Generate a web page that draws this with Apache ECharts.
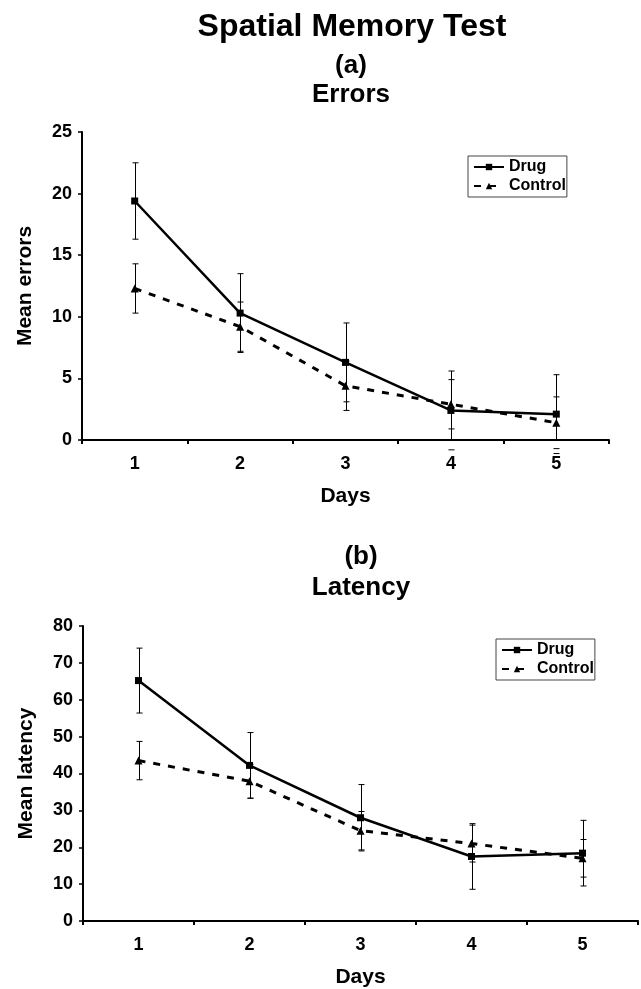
<!DOCTYPE html>
<html>
<head>
<meta charset="utf-8">
<script src="https://cdn.jsdelivr.net/npm/echarts@6/dist/echarts.min.js"></script>
<style>
  html, body { margin: 0; padding: 0; background: #fff; }
  #chart { width: 641px; height: 989px; }
</style>
</head>
<body>
<div id="chart"></div>
<script>
// Days on the x axis
var days = ['1', '2', '3', '4', '5'];

// (a) Errors: means and error-bar half widths
var errorsDrug        = [19.4, 10.3, 6.3, 2.4, 2.1];
var errorsDrugErr     = [3.1, 3.2, 3.2, 3.2, 3.2];
var errorsControl     = [12.3, 9.2, 4.4, 2.9, 1.4];
var errorsControlErr  = [2.0, 2.0, 2.0, 2.0, 2.1];

// (b) Latency: means and error-bar half widths
var latencyDrug       = [65.2, 42.2, 28.0, 17.5, 18.4];
var latencyDrugErr    = [8.8, 8.9, 9.0, 8.9, 8.9];
var latencyControl    = [43.5, 37.9, 24.5, 21.0, 17.0];
var latencyControlErr = [5.2, 4.6, 5.2, 5.0, 5.1];

var FONT = 'Liberation Sans, Arial, sans-serif';

function errData(mean, err) {
    return mean.map(function (m, i) { return [i, m - err[i], m + err[i]]; });
}

// vertical whisker, clipped at the x axis; caps drawn where they fall
function renderErr(params, api) {
    var i = api.value(0);
    var lo = api.coord([i, api.value(1)]);
    var hi = api.coord([i, api.value(2)]);
    var zero = api.coord([i, 0])[1];
    var x = Math.round(lo[0]) + 0.5;
    var yLo = Math.min(lo[1], zero);
    var st = { stroke: '#000', lineWidth: 1 };
    return {
        type: 'group',
        children: [
            { type: 'line', shape: { x1: x, y1: hi[1], x2: x, y2: yLo }, style: st },
            { type: 'line', shape: { x1: x - 3, y1: hi[1], x2: x + 3, y2: hi[1] }, style: st },
            { type: 'line', shape: { x1: x - 3, y1: lo[1], x2: x + 3, y2: lo[1] }, style: st }
        ]
    };
}

function xAxisFor(gi) {
    return {
        type: 'category', gridIndex: gi, data: days,
        name: 'Days', nameLocation: 'middle', nameGap: 46,
        nameTextStyle: { fontFamily: FONT, fontWeight: 'bold', fontSize: 21, color: '#000' },
        axisLine: { lineStyle: { color: '#000', width: 2 } },
        axisTick: { show: true, length: 4, lineStyle: { color: '#000', width: 2 } },
        axisLabel: { margin: 15, fontFamily: FONT, fontWeight: 'bold', fontSize: 18, color: '#000' },
        splitLine: { show: false }
    };
}

function yAxisFor(gi, name, max, step) {
    return {
        type: 'value', gridIndex: gi, min: 0, max: max, interval: step,
        name: name, nameLocation: 'middle', nameGap: 46,
        nameTextStyle: { fontFamily: FONT, fontWeight: 'bold', fontSize: 21, color: '#000' },
        axisLine: { show: true, lineStyle: { color: '#000', width: 2 } },
        axisTick: { show: true, length: 4, lineStyle: { color: '#000', width: 1.5 } },
        axisLabel: { margin: 10, fontFamily: FONT, fontWeight: 'bold', fontSize: 18, color: '#000' },
        splitLine: { show: false }
    };
}

function lineSeries(name, gi, data, dashed) {
    return {
        name: name, type: 'line', xAxisIndex: gi, yAxisIndex: gi, data: data,
        symbol: dashed ? 'triangle' : 'rect', symbolSize: dashed ? 8 : 7,
        itemStyle: { color: '#000' },
        lineStyle: { color: '#000', width: dashed ? 3 : 2.5, type: dashed ? [7, 8] : 'solid' },
        z: 3, animation: false
    };
}

function errSeries(gi, mean, err) {
    return {
        type: 'custom', xAxisIndex: gi, yAxisIndex: gi, data: errData(mean, err),
        renderItem: renderErr, clip: false, silent: true, z: 2, animation: false,
        encode: { x: 0, y: [1, 2] }
    };
}

function legendFor(left, top) {
    return {
        data: ['Drug', 'Control'], orient: 'vertical', left: left, top: top,
        itemWidth: 30, itemHeight: 8, itemGap: 3, itemTextGap: 4, padding: [3, 1, 3, 5],
        borderColor: '#444', borderWidth: 1,
        textStyle: { fontFamily: FONT, fontWeight: 'bold', fontSize: 16, color: '#000' }
    };
}

function titleText(text, x, y, size) {
    return {
        type: 'text', x: x, y: y,
        style: { text: text, fill: '#000', font: 'bold ' + size + 'px ' + FONT, textAlign: 'center', textVerticalAlign: 'middle' }
    };
}

var chart = echarts.init(document.getElementById('chart'));
chart.setOption({
    backgroundColor: '#fff',
    animation: false,
    graphic: [
        titleText('Spatial Memory Test', 352, 27, 32),
        titleText('(a)', 351, 66, 26),
        titleText('Errors', 351, 95, 26),
        titleText('(b)', 361, 557, 26),
        titleText('Latency', 361, 588, 26)
    ],
    legend: [legendFor(468, 156), legendFor(496, 639)],
    grid: [
        { left: 82, top: 132, width: 527, height: 308 },
        { left: 83, top: 626, width: 555, height: 295 }
    ],
    xAxis: [xAxisFor(0), xAxisFor(1)],
    yAxis: [yAxisFor(0, 'Mean errors', 25, 5), yAxisFor(1, 'Mean latency', 80, 10)],
    series: [
        errSeries(0, errorsDrug, errorsDrugErr),
        errSeries(0, errorsControl, errorsControlErr),
        lineSeries('Drug', 0, errorsDrug, false),
        lineSeries('Control', 0, errorsControl, true),
        errSeries(1, latencyDrug, latencyDrugErr),
        errSeries(1, latencyControl, latencyControlErr),
        lineSeries('Drug', 1, latencyDrug, false),
        lineSeries('Control', 1, latencyControl, true)
    ]
});
</script>
</body>
</html>
